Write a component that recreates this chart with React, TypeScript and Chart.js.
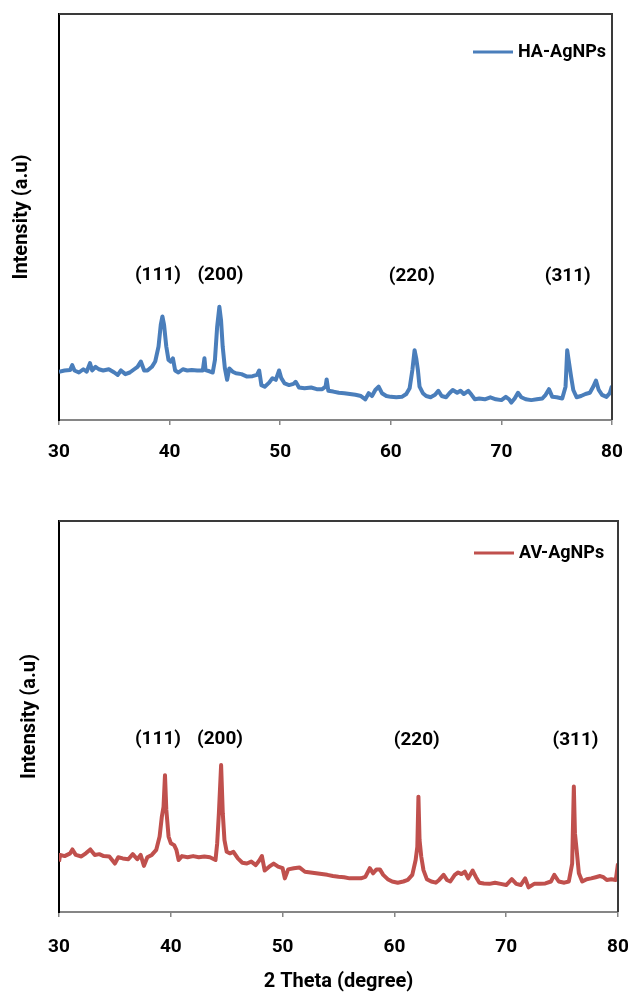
import React, { useEffect, useRef } from 'react';
import { Chart, registerables } from 'chart.js';

Chart.register(...registerables);

// 2θ axis and reflection labels
const thetaTicks = [30, 40, 50, 60, 70, 80];
const peakLabels = ['(111)', '(200)', '(220)', '(311)'];

// HA-AgNPs diffractogram (2θ in degrees, intensity in arbitrary units)
const haTheta = [
  30.0, 30.5, 31.0, 31.2, 31.4, 31.8, 32.2, 32.5, 32.8, 33.0, 33.3, 33.6, 34.0, 34.5, 35.0, 35.3, 35.6, 36.0, 36.4, 36.8,
  37.1, 37.4, 37.7, 38.0, 38.4, 38.7, 39.0, 39.2, 39.35, 39.5, 39.7, 39.9, 40.1, 40.3, 40.5, 40.8, 41.2, 41.6, 42.0, 42.5,
  43.0, 43.15, 43.25, 43.6, 43.9, 44.1, 44.3, 44.5, 44.65, 44.8, 45.0, 45.2, 45.4, 45.7, 46.0, 46.5, 47.0, 47.5, 47.9, 48.1,
  48.3, 48.6, 49.0, 49.3, 49.6, 49.9, 50.1, 50.4, 50.8, 51.2, 51.4, 51.7, 52.2, 52.8, 53.3, 53.8, 54.1, 54.2, 54.35, 54.8,
  55.3, 55.8, 56.3, 56.8, 57.3, 57.7, 58.0, 58.3, 58.6, 58.9, 59.2, 59.6, 60.0, 60.5, 61.0, 61.4, 61.7, 61.95, 62.15, 62.3,
  62.45, 62.6, 62.9, 63.2, 63.6, 64.0, 64.3, 64.6, 65.0, 65.3, 65.6, 66.0, 66.3, 66.6, 67.0, 67.3, 67.6, 68.0, 68.5, 69.0,
  69.5, 70.0, 70.4, 70.7, 70.9, 71.2, 71.5, 71.8, 72.2, 72.7, 73.2, 73.7, 74.0, 74.3, 74.6, 75.0, 75.5, 75.8, 75.95, 76.1,
  76.3, 76.5, 76.8, 77.2, 77.6, 78.0, 78.3, 78.55, 78.8, 79.1, 79.5, 79.8, 80.0,
];
const haIntensity = [
  11.9, 12.2, 12.3, 13.5, 12.2, 11.7, 12.5, 11.9, 14.0, 12.2, 13.1, 12.5, 12.2, 12.5, 11.7, 11.1, 12.2, 11.3, 11.7, 12.5,
  13.1, 14.4, 12.2, 12.2, 13.1, 14.4, 18.1, 23.4, 25.5, 23.4, 18.1, 14.8, 14.4, 15.2, 12.2, 11.7, 12.5, 12.2, 12.3, 12.2,
  12.2, 15.2, 12.3, 12.0, 11.7, 14.8, 23.0, 27.9, 24.6, 18.1, 12.7, 9.9, 12.7, 11.9, 11.5, 11.3, 10.7, 10.8, 11.1, 12.2,
  8.6, 8.2, 9.2, 10.3, 9.9, 12.2, 10.3, 9.0, 8.6, 8.9, 9.4, 8.0, 7.8, 8.0, 7.6, 7.6, 8.2, 10.0, 7.2, 7.0,
  6.7, 6.6, 6.4, 6.2, 5.9, 5.1, 6.6, 5.9, 7.4, 8.2, 6.6, 5.9, 5.7, 5.6, 5.7, 6.4, 7.8, 12.3, 17.2, 15.2,
  12.3, 8.2, 6.6, 5.9, 5.6, 6.2, 7.2, 5.9, 5.6, 6.6, 7.4, 6.7, 7.2, 6.4, 7.2, 6.2, 5.1, 5.3, 5.1, 5.6,
  5.1, 4.9, 5.7, 5.1, 4.3, 5.3, 6.7, 5.6, 5.1, 4.9, 5.1, 5.3, 6.2, 7.6, 5.7, 5.6, 5.3, 8.2, 17.2, 14.4,
  10.7, 7.4, 5.6, 5.9, 6.4, 6.7, 8.2, 9.7, 7.4, 6.2, 5.7, 6.6, 8.4,
];
const haPeakTheta = [38.95, 44.6, 61.9, 76.0];
const haPeakLevel = [35.7, 35.7, 35.5, 35.5];

// AV-AgNPs diffractogram
const avTheta = [
  30.0, 30.1, 30.5, 31.0, 31.2, 31.5, 32.0, 32.4, 32.8, 33.2, 33.6, 34.0, 34.5, 35.0, 35.3, 35.7, 36.2, 36.6, 37.0, 37.3,
  37.6, 37.9, 38.3, 38.7, 39.0, 39.2, 39.35, 39.48, 39.6, 39.8, 40.0, 40.3, 40.5, 40.7, 41.0, 41.5, 42.0, 42.5, 43.0, 43.5,
  44.0, 44.15, 44.3, 44.5, 44.65, 44.8, 45.0, 45.3, 45.6, 46.0, 46.4, 46.8, 47.2, 47.6, 47.9, 48.15, 48.4, 48.8, 49.2, 49.6,
  50.0, 50.2, 50.5, 51.0, 51.5, 52.0, 52.5, 53.0, 53.5, 54.0, 54.5, 55.0, 55.5, 56.0, 56.5, 57.0, 57.4, 57.8, 58.1, 58.4,
  58.7, 59.0, 59.4, 59.8, 60.3, 60.8, 61.2, 61.6, 61.9, 62.05, 62.15, 62.25, 62.4, 62.6, 62.9, 63.3, 63.7, 64.0, 64.4, 64.7,
  65.0, 65.4, 65.7, 66.0, 66.3, 66.6, 67.0, 67.3, 67.6, 68.0, 68.5, 69.0, 69.5, 70.0, 70.5, 70.9, 71.3, 71.7, 72.0, 72.5,
  73.0, 73.5, 74.0, 74.3, 74.7, 75.2, 75.6, 75.9, 76.05, 76.15, 76.3, 76.5, 76.8, 77.2, 77.6, 78.0, 78.4, 78.7, 79.0, 79.4,
  79.8, 80.0,
];
const avIntensity = [
  12.9, 14.6, 14.3, 15.0, 16.0, 14.6, 14.2, 15.0, 16.0, 14.6, 14.8, 14.3, 14.2, 12.4, 14.0, 13.7, 13.5, 14.8, 13.5, 14.6,
  11.8, 14.0, 14.6, 15.9, 19.3, 24.4, 26.9, 35.0, 26.1, 19.3, 17.6, 17.1, 15.9, 13.3, 14.3, 14.0, 14.3, 14.0, 14.2, 14.0,
  13.3, 17.6, 25.2, 37.6, 25.2, 18.4, 15.4, 15.0, 15.4, 13.7, 12.6, 12.4, 12.9, 12.0, 13.1, 14.3, 10.6, 11.6, 12.4, 11.6,
  11.2, 8.6, 10.9, 11.2, 11.4, 10.3, 10.1, 9.9, 9.7, 9.5, 9.2, 9.0, 8.9, 8.6, 8.6, 8.6, 9.0, 11.2, 9.9, 10.9,
  10.9, 9.5, 8.4, 7.8, 7.5, 7.8, 8.2, 9.5, 13.3, 16.7, 29.5, 18.4, 14.2, 10.7, 8.4, 7.8, 7.5, 8.2, 9.5, 8.2,
  7.8, 9.5, 10.1, 9.7, 10.3, 8.6, 10.6, 8.9, 7.5, 7.3, 7.2, 7.5, 7.2, 6.9, 8.4, 7.2, 6.9, 8.6, 6.3, 7.2,
  7.2, 7.3, 7.8, 9.5, 7.8, 7.5, 7.8, 12.4, 32.1, 20.1, 15.9, 9.9, 7.8, 8.4, 8.6, 8.9, 9.2, 8.9, 8.2, 8.4,
  8.2, 12.4,
];
const avPeakTheta = [38.85, 44.4, 62.0, 76.2];
const avPeakLevel = [44.1, 44.1, 43.9, 43.9];

const FONT = 'Roboto, "Open Sans", sans-serif';
const WIDTH = 629;

type PanelProps = {
  theta: number[];
  intensity: number[];
  label: string;
  color: string;
  peakTheta: number[];
  peakLevel: number[];
  top: number;
  height: number;
  area: { left: number; top: number; right: number; bottom: number };
  legendAt: { x: number; y: number };
  yTitlePad: number;
  tickPad: number;
  showXTitle: boolean;
};

function Panel(props: PanelProps) {
  const ref = useRef<HTMLCanvasElement | null>(null);

  useEffect(() => {
    const canvas = ref.current;
    if (!canvas) return;
    const { area, height } = props;
    const tickFont = { family: FONT, size: 19, weight: 'bold' as const };
    const titleFont = { family: FONT, size: 20, weight: 'bold' as const };

    // frame edges, reflection labels and the legend entry
    const decorations = {
      id: 'decorations',
      afterDatasetsDraw(chart: any) {
        const { ctx, chartArea, scales } = chart;
        ctx.save();
        ctx.strokeStyle = '#3a3a3a';
        ctx.lineWidth = 2;
        ctx.beginPath();
        ctx.moveTo(chartArea.left, chartArea.top);
        ctx.lineTo(chartArea.right, chartArea.top);
        ctx.lineTo(chartArea.right, chartArea.bottom);
        ctx.stroke();

        ctx.fillStyle = '#000';
        ctx.font = `bold 19px ${FONT}`;
        ctx.textAlign = 'center';
        ctx.textBaseline = 'middle';
        peakLabels.forEach((txt, i) => {
          const x = scales.x.getPixelForValue(props.peakTheta[i]);
          const y = scales.y.getPixelForValue(props.peakLevel[i]);
          ctx.fillText(txt, x, y);
        });

        const ds = chart.data.datasets[0];
        const lx = chartArea.left + props.legendAt.x;
        const ly = chartArea.top + props.legendAt.y;
        ctx.strokeStyle = ds.borderColor;
        ctx.lineWidth = 3;
        ctx.beginPath();
        ctx.moveTo(lx, ly);
        ctx.lineTo(lx + 40, ly);
        ctx.stroke();
        ctx.font = `bold 18px ${FONT}`;
        ctx.textAlign = 'left';
        ctx.fillText(ds.label, lx + 45, ly);
        ctx.restore();
      },
    };

    const chart = new Chart(canvas, {
      type: 'line',
      data: {
        datasets: [
          {
            label: props.label,
            data: props.theta.map((t, i) => ({ x: t, y: props.intensity[i] })),
            borderColor: props.color,
            borderWidth: 4,
            borderJoinStyle: 'round',
            pointRadius: 0,
            tension: 0,
            fill: false,
          },
        ],
      },
      options: {
        animation: false,
        responsive: false,
        events: [],
        layout: { padding: { left: 0, top: area.top, right: WIDTH - area.right, bottom: 0 } },
        plugins: { legend: { display: false }, tooltip: { enabled: false } },
        scales: {
          x: {
            type: 'linear',
            min: 30,
            max: 80,
            afterBuildTicks: (s: any) => {
              s.ticks = thetaTicks.map((v) => ({ value: v }));
            },
            ticks: { font: tickFont, color: '#000', padding: props.tickPad, maxRotation: 0 },
            grid: {
              display: true,
              drawOnChartArea: false,
              drawTicks: true,
              tickLength: 5,
              color: '#868686',
              lineWidth: 1.5,
            },
            border: { display: true, color: '#868686', width: 2 },
            title: {
              display: props.showXTitle,
              text: '2 Theta (degree)',
              font: titleFont,
              color: '#000',
              padding: 0,
            },
            afterFit: (s: any) => {
              s.height = height - area.bottom;
              s.paddingLeft = 0;
              s.paddingRight = 0;
            },
          },
          y: {
            min: 0,
            max: 100,
            ticks: { display: false },
            grid: { display: false },
            border: { display: true, color: '#000', width: 2 },
            title: {
              display: true,
              text: 'Intensity (a.u)',
              font: titleFont,
              color: '#000',
              padding: { top: props.yTitlePad, bottom: 0 },
            },
            afterFit: (s: any) => {
              s.width = area.left;
              s.paddingTop = 0;
              s.paddingBottom = 0;
            },
          },
        },
      },
      plugins: [decorations],
    });

    return () => chart.destroy();
  }, []);

  return (
    <canvas
      ref={ref}
      width={WIDTH}
      height={props.height}
      style={{ position: 'absolute', left: 0, top: props.top, width: WIDTH, height: props.height, display: 'block' }}
    />
  );
}

export default function App() {
  return (
    <div style={{ position: 'absolute', left: 0, top: 0, width: WIDTH, height: 994, background: '#fff' }}>
      <Panel
        theta={haTheta}
        intensity={haIntensity}
        label="HA-AgNPs"
        color="#4a7ebb"
        peakTheta={haPeakTheta}
        peakLevel={haPeakLevel}
        top={0}
        height={480}
        area={{ left: 59, top: 14, right: 612, bottom: 420 }}
        legendAt={{ x: 414, y: 38 }}
        yTitlePad={10}
        tickPad={16}
        showXTitle={false}
      />
      <Panel
        theta={avTheta}
        intensity={avIntensity}
        label="AV-AgNPs"
        color="#c0504d"
        peakTheta={avPeakTheta}
        peakLevel={avPeakLevel}
        top={480}
        height={514}
        area={{ left: 59, top: 41, right: 618, bottom: 432 }}
        legendAt={{ x: 415, y: 32 }}
        yTitlePad={18}
        tickPad={19}
        showXTitle={true}
      />
    </div>
  );
}
